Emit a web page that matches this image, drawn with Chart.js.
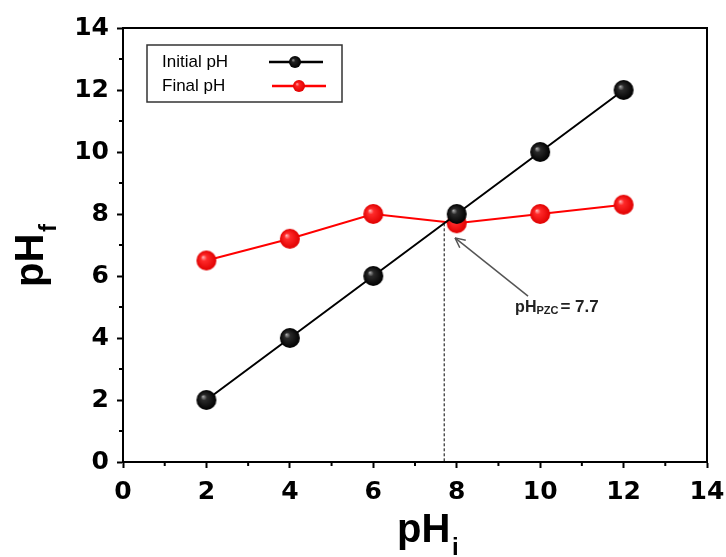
<!DOCTYPE html>
<html lang="en">
<head>
<meta charset="UTF-8">
<title>pH drift - point of zero charge</title>
<style>
    body { margin: 0; background: #fff; }
    #wrap { width: 726px; height: 557px; }
</style>
</head>
<body>
<div id="wrap"><canvas id="phChart" width="726" height="557"></canvas></div>

<script src="https://cdn.jsdelivr.net/npm/chart.js@4"></script>
<script>
    // data
    const phInitial = [2, 4, 6, 8, 10, 12];
    const initialPH = [2, 4, 6, 8, 10, 12];
    const finalPH = [6.5, 7.2, 8.0, 7.7, 8.0, 8.3];
    const pzcValue = 7.7;
    const seriesNames = ['Initial pH', 'Final pH'];
    const axisMin = 0, axisMax = 14, axisStep = 2;

    const FONT = '"Liberation Sans", Arial, sans-serif';

    // shaded sphere marker
    function sphere(r, hi, mid, edge) {
        const c = document.createElement('canvas');
        c.width = c.height = r * 2 + 2;
        const g = c.getContext('2d');
        const cx = r + 1, cy = r + 1;
        const grad = g.createRadialGradient(cx - r * 0.35, cy - r * 0.35, 0, cx, cy, r);
        grad.addColorStop(0, hi);
        grad.addColorStop(0.3, mid);
        grad.addColorStop(1, edge);
        g.fillStyle = grad;
        g.beginPath();
        g.arc(cx, cy, r, 0, Math.PI * 2);
        g.fill();
        return c;
    }
    const blackBall = sphere(10, '#b0b0b0', '#2a2a2a', '#000');
    const redBall = sphere(10, '#ffc0c0', '#ff2a2a', '#e00000');
    const blackSmall = sphere(6, '#a0a0a0', '#222', '#000');
    const redSmall = sphere(6, '#ffb0b0', '#ff2020', '#e00000');

    const toXY = (xs, ys) => xs.map((x, i) => ({ x: x, y: ys[i] }));

    // frame, minor ticks, legend, axis titles and the PZC marker
    const decor = {
        id: 'decor',
        beforeDatasetsDraw(chart) {
            const ctx = chart.ctx, a = chart.chartArea;
            const xs = chart.scales.x, ys = chart.scales.y;
            ctx.save();
            // dashed drop line at the PZC
            ctx.strokeStyle = '#000';
            ctx.lineWidth = 1;
            ctx.setLineDash([3, 2]);
            ctx.beginPath();
            ctx.moveTo(xs.getPixelForValue(pzcValue), ys.getPixelForValue(pzcValue));
            ctx.lineTo(xs.getPixelForValue(pzcValue), a.bottom);
            ctx.stroke();
            ctx.restore();
        },
        afterDraw(chart) {
            const ctx = chart.ctx, a = chart.chartArea;
            const xs = chart.scales.x, ys = chart.scales.y;
            ctx.save();

            // box
            ctx.strokeStyle = '#000';
            ctx.lineWidth = 2;
            ctx.strokeRect(a.left, a.top, a.right - a.left, a.bottom - a.top);

            // minor ticks
            ctx.lineWidth = 2;
            for (let v = 1; v < axisMax; v += 2) {
                const px = xs.getPixelForValue(v);
                ctx.beginPath(); ctx.moveTo(px, a.bottom); ctx.lineTo(px, a.bottom + 4); ctx.stroke();
                const py = ys.getPixelForValue(v);
                ctx.beginPath(); ctx.moveTo(a.left, py); ctx.lineTo(a.left - 4, py); ctx.stroke();
            }

            // axis titles
            ctx.fillStyle = '#000';
            ctx.textBaseline = 'alphabetic';
            ctx.font = 'bold 40px ' + FONT;
            ctx.textAlign = 'left';
            ctx.fillText('pH', 397, 542);
            ctx.font = 'bold 24px ' + FONT;
            ctx.fillText('i', 452, 555);

            ctx.save();
            ctx.translate(43, 287);
            ctx.rotate(-Math.PI / 2);
            ctx.font = 'bold 40px ' + FONT;
            ctx.fillText('pH', 0, 0);
            ctx.font = 'bold 24px ' + FONT;
            ctx.fillText('f', 55, 13);
            ctx.restore();

            // arrow to the PZC point
            const tx = xs.getPixelForValue(7.96), ty = ys.getPixelForValue(7.23);
            const fx = xs.getPixelForValue(9.71), fy = ys.getPixelForValue(5.35);
            const ang = Math.atan2(ty - fy, tx - fx);
            ctx.strokeStyle = '#555';
            ctx.fillStyle = '#555';
            ctx.lineWidth = 1.5;
            ctx.beginPath(); ctx.moveTo(fx, fy); ctx.lineTo(tx, ty); ctx.stroke();
            ctx.beginPath();
            ctx.moveTo(tx, ty);
            ctx.lineTo(tx - 11 * Math.cos(ang - 0.45), ty - 11 * Math.sin(ang - 0.45));
            ctx.moveTo(tx, ty);
            ctx.lineTo(tx - 11 * Math.cos(ang + 0.45), ty - 11 * Math.sin(ang + 0.45));
            ctx.stroke();

            // PZC label
            let lx = xs.getPixelForValue(9.4);
            const ly = ys.getPixelForValue(4.84);
            ctx.fillStyle = '#222';
            ctx.font = 'bold 16px ' + FONT;
            ctx.fillText('pH', lx, ly);
            lx += ctx.measureText('pH').width;
            ctx.font = 'bold 11px ' + FONT;
            ctx.fillText('PZC', lx, ly + 2);
            lx += ctx.measureText('PZC').width + 2;
            ctx.font = 'bold 17px ' + FONT;
            ctx.fillText('= ' + pzcValue.toFixed(1), lx, ly);

            // legend
            ctx.strokeStyle = '#333';
            ctx.lineWidth = 1.5;
            ctx.strokeRect(147, 45, 195, 57);
            const rows = [
                { y: 62, color: '#000', ball: blackSmall, x0: 269, x1: 323, mx: 295 },
                { y: 86, color: '#ff0000', ball: redSmall, x0: 272, x1: 326, mx: 299 }
            ];
            ctx.font = '17px ' + FONT;
            ctx.fillStyle = '#000';
            ctx.textBaseline = 'middle';
            rows.forEach((r, i) => {
                ctx.fillText(seriesNames[i], 162, r.y);
                ctx.strokeStyle = r.color;
                ctx.lineWidth = 2.5;
                ctx.beginPath(); ctx.moveTo(r.x0, r.y); ctx.lineTo(r.x1, r.y); ctx.stroke();
                ctx.drawImage(r.ball, r.mx - r.ball.width / 2, r.y - r.ball.height / 2);
            });

            ctx.restore();
        }
    };

    const tickFont = { family: '"DejaVu Sans", sans-serif', size: 25, weight: 'bold' };

    new Chart(document.getElementById('phChart'), {
        type: 'line',
        data: {
            datasets: [
                {
                    label: seriesNames[0],
                    data: toXY(phInitial, initialPH),
                    borderColor: '#000',
                    borderWidth: 2,
                    pointStyle: blackBall,
                    pointRadius: 10
                },
                {
                    label: seriesNames[1],
                    data: toXY(phInitial, finalPH),
                    borderColor: '#ff0000',
                    borderWidth: 2,
                    pointStyle: redBall,
                    pointRadius: 10
                }
            ]
        },
        options: {
            responsive: false,
            animation: false,
            layout: { padding: { top: 28, right: 19, left: 0, bottom: 0 } },
            plugins: {
                legend: { display: false },
                tooltip: { enabled: false }
            },
            scales: {
                x: {
                    type: 'linear',
                    min: axisMin, max: axisMax,
                    ticks: { stepSize: axisStep, color: '#000', font: tickFont, padding: 9, maxRotation: 0 },
                    grid: { drawOnChartArea: false, drawTicks: true, tickLength: 6, tickWidth: 2, tickColor: '#000' },
                    border: { display: true, color: '#000', width: 2 },
                    afterFit: s => { s.height = 95; s.paddingLeft = 0; s.paddingRight = 0; }
                },
                y: {
                    min: axisMin, max: axisMax,
                    ticks: { stepSize: axisStep, color: '#000', font: tickFont, padding: 8 },
                    grid: { drawOnChartArea: false, drawTicks: true, tickLength: 6, tickWidth: 2, tickColor: '#000' },
                    border: { display: true, color: '#000', width: 2 },
                    afterFit: s => { s.width = 123; s.paddingTop = 0; s.paddingBottom = 0; }
                }
            }
        },
        plugins: [decor]
    });
</script>
</body>
</html>
